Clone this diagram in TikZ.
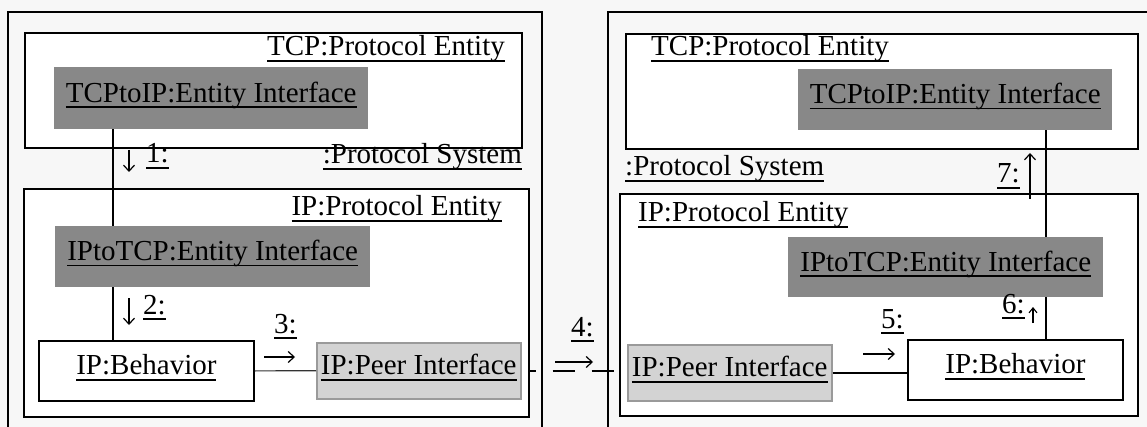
\documentclass[tikz,border=0pt]{standalone}
\usepackage{fontspec}
\setmainfont{Liberation Serif}
\usetikzlibrary{arrows.meta}
\pgfdeclarelayer{bg}
\pgfdeclarelayer{conn}
\pgfsetlayers{bg,conn,main}
\definecolor{bgc}{HTML}{F7F7F7}
\definecolor{darkif}{HTML}{888888}
\definecolor{lightif}{HTML}{D3D3D3}
\definecolor{lightbd}{HTML}{9A9A9A}
\newsavebox\ulbox
\newcommand\ulx[1]{\sbox\ulbox{#1}\rlap{\rule[-5.8pt]{\wd\ulbox}{1.6pt}}\usebox\ulbox}
\begin{document}
\begin{tikzpicture}[x=1pt,y=-1pt,
  font=\fontsize{29}{34}\selectfont,
  txt/.style={text height=20pt,text depth=12pt},
  sysbox/.style={draw,line width=1.8pt,inner sep=0pt,anchor=north west},
  entbox/.style={draw,fill=white,line width=1.8pt,inner sep=0pt,anchor=north west},
  ifbox/.style={fill=darkif,inner sep=0pt,anchor=north west,txt},
  behbox/.style={draw,fill=white,line width=1.8pt,inner sep=0pt,anchor=north west,txt},
  peerbox/.style={draw=lightbd,fill=lightif,line width=1.5pt,inner sep=0pt,anchor=north west,txt},
  lbl/.style={inner sep=0pt},
  conn/.style={line width=1.8pt},
  thinconn/.style={line width=1.2pt,draw=black!80},
  msg/.style={line width=1.2pt,-{Straight Barb[length=6pt,width=11pt]}},
  smallmsg/.style={line width=1.1pt,-{Straight Barb[length=5pt,width=8pt]}}
]
\begin{pgfonlayer}{bg}
  \fill[bgc] (0,0) rectangle (1147,427);
\end{pgfonlayer}
\useasboundingbox (0,0) rectangle (1147,427);
\clip (0,0) rectangle (1147,427);

% ---------- left protocol system ----------
\node[sysbox,minimum width=534,minimum height=429] (sysL) at (7,11) {};
\node[entbox,minimum width=497,minimum height=115] (tcpL) at (24,32) {};
\node[ifbox,minimum width=314,minimum height=62] (tcpifL) at (54,67) {\ulx{TCPtoIP:Entity Interface}};
\node[lbl,anchor=base east] (tcptitleL) at (505,56) {\ulx{TCP:Protocol Entity}};
\node[lbl,anchor=base east] (systitleL) at (522,164) {\ulx{:Protocol System}};
\node[entbox,minimum width=505,minimum height=228] (ipL) at (23,188) {};
\node[lbl,anchor=base east] (iptitleL) at (502,216) {\ulx{IP:Protocol Entity}};
\node[ifbox,minimum width=315,minimum height=61] (ipifL) at (55,226) {\ulx{IPtoTCP:Entity Interface}};
\node[behbox,minimum width=215,minimum height=60] (behL) at (38,340) {\ulx{IP:Behavior}};
\node[peerbox,minimum width=204,minimum height=56] (peerL) at (316,342) {\ulx{IP:Peer Interface}};

\coordinate (xL) at (113,0);
\draw[conn] (tcpifL.south -| xL) -- (ipifL.north -| xL);
\draw[conn] (ipifL.south -| xL) -- (behL.north -| xL);
\draw[thinconn] (behL.east) -- (peerL.west);

\node[lbl,anchor=base west] (m1) at (146,163) {\ulx{1:}};
\node[lbl,anchor=base west] (m2) at (143,314) {\ulx{2:}};
\node[lbl,anchor=base west] (m3) at (274,333) {\ulx{3:}};
\draw[msg] (m1.base west) ++(-17,-13) -- ++(0,22);
\draw[msg] (m2.base west) ++(-14,-16) -- ++(0,27);
\draw[msg] (m3.base west) ++(-10,24) -- ++(31,0);

% ---------- right protocol system ----------
\node[sysbox,minimum width=560,minimum height=429] (sysR) at (607,11) {};
\node[entbox,minimum width=512,minimum height=115] (tcpR) at (625,33) {};
\node[lbl,anchor=base west] (tcptitleR) at (651,56) {\ulx{TCP:Protocol Entity}};
\node[ifbox,minimum width=314,minimum height=61] (tcpifR) at (798,69) {\ulx{TCPtoIP:Entity Interface}};
\node[lbl,anchor=base west] (systitleR) at (625,176) {\ulx{:Protocol System}};
\node[entbox,minimum width=518,minimum height=222] (ipR) at (619,193) {};
\node[lbl,anchor=base west] (iptitleR) at (638,222) {\ulx{IP:Protocol Entity}};
\node[ifbox,minimum width=315,minimum height=60] (ipifR) at (788,237) {\ulx{IPtoTCP:Entity Interface}};
\node[behbox,minimum width=215,minimum height=60] (behR) at (907,339) {\ulx{IP:Behavior}};
\node[peerbox,minimum width=204,minimum height=56] (peerR) at (627,344) {\ulx{IP:Peer Interface}};

\coordinate (xR) at (1046,0);
\draw[conn] (tcpifR.south -| xR) -- (ipifR.north -| xR);
\draw[conn] (ipifR.south -| xR) -- (behR.north -| xR);
\draw[conn] (peerR.east) -- (peerR.east -| behR.west);

\node[lbl,anchor=base west] (m4) at (571,336) {\ulx{4:}};
\node[lbl,anchor=base west] (m5) at (881,328) {\ulx{5:}};
\node[lbl,anchor=base west] (m6) at (1002,313) {\ulx{6:}};
\node[lbl,anchor=base west] (m7) at (997,183) {\ulx{7:}};
\draw[msg] (m4.base west) ++(-16,26) -- ++(38,0);
\draw[msg] (m5.base west) ++(-18,26) -- ++(32,0);
\draw[smallmsg] (m6.base west) ++(31,10) -- ++(0,-16);
\draw[msg] (m7.base west) ++(33,16) -- ++(0,-46);

% ---------- peer connector (passes behind the entity boxes) ----------
\begin{pgfonlayer}{conn}
  \draw[line width=1.8pt,dash pattern=on 22pt off 17pt,dash phase=8pt]
    (peerL.east) -- (peerL.east -| peerR.west);
\end{pgfonlayer}
\end{tikzpicture}
\end{document}
